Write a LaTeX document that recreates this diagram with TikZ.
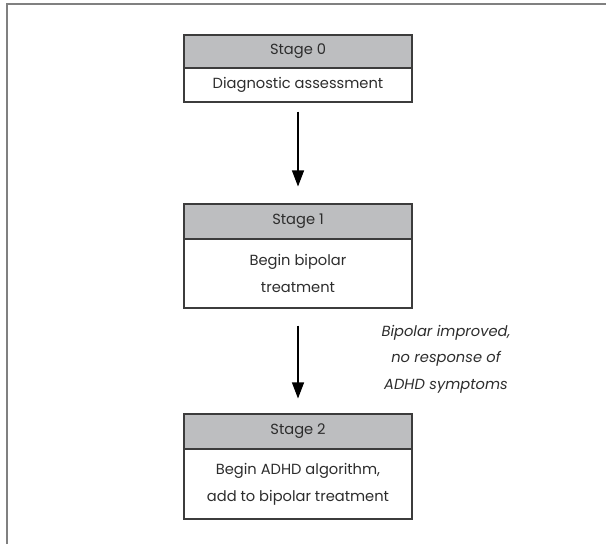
\documentclass[tikz,border=0pt]{standalone}
\usepackage{fontspec}
\setmainfont{Poppins}
\usetikzlibrary{arrows.meta}
\definecolor{headgray}{RGB}{189,190,192}
\definecolor{linegray}{RGB}{60,60,60}
\definecolor{textgray}{RGB}{45,45,45}
\tikzset{
  stagehead/.style={draw=linegray, fill=headgray, line width=0.8pt, minimum width=171pt, inner sep=0pt, text=textgray, font=\fontsize{11}{20}\selectfont},
  stagebody/.style={draw=linegray, fill=white, line width=0.8pt, minimum width=171pt, inner sep=0pt, align=center, text=textgray, font=\fontsize{11}{20}\selectfont},
  flowarrow/.style={line width=0.8pt, -{Triangle[length=12pt,width=9pt]}}
}

\begin{document}
\begin{tikzpicture}[x=0.75pt, y=-0.75pt]
\useasboundingbox (0,0) rectangle (606,544);
\draw[line width=1.5pt, draw=gray] (6.5,544) -- (6.5,3.5) -- (606,3.5);

\node[stagehead, minimum height=24.75pt] (s0head) at (298,51.5) {Stage 0};
\node[stagebody, minimum height=25.5pt] (s0body) at (298,85) {Diagnostic assessment};

\node[stagehead, minimum height=26.25pt] (s1head) at (298,221.5) {Stage 1};
\node[stagebody, minimum height=51.75pt] (s1body) at (298,273.5) {Begin bipolar\\treatment};

\node[stagehead, minimum height=26.25pt] (s2head) at (298,431.5) {Stage 2};
\node[stagebody, minimum height=52.5pt] (s2body) at (298,484) {Begin ADHD algorithm,\\add to bipolar treatment};

\draw[flowarrow, shorten <=6.75pt, shorten >=12.75pt] (s0body) -- (s1head);
\draw[flowarrow, shorten <=12.75pt, shorten >=11.25pt] (s1body) -- (s2head);

\node[align=center, text=textgray, font=\fontsize{11}{20}\selectfont\itshape] (lbl) at (446,359)
{Bipolar improved,\\no response of\\ADHD symptoms};

\end{tikzpicture}
\end{document}
